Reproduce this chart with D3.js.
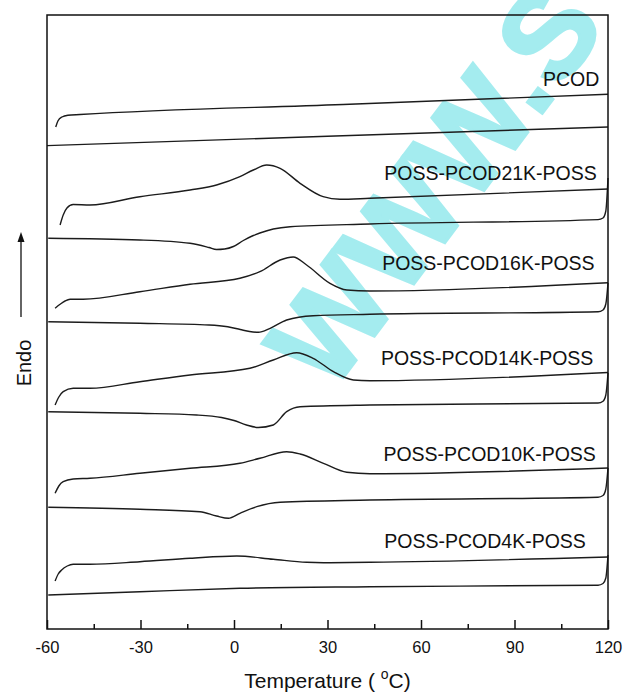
<!DOCTYPE html>
<html>
<head>
<meta charset="utf-8">
<script src="https://cdn.jsdelivr.net/npm/d3@7"></script>
<style>
  body { margin: 0; background: #fff; }
  svg text { font-family: "Liberation Sans", Arial, sans-serif; }
</style>
</head>
<body>
<div id="chart"></div>
<script>
// DSC traces, [temperature (°C), heat flow (a.u., offset)]
var samples = ["PCOD", "POSS-PCOD21K-POSS", "POSS-PCOD16K-POSS",
               "POSS-PCOD14K-POSS", "POSS-PCOD10K-POSS", "POSS-PCOD4K-POSS"];

var pcodHeat = [[-57.2, 50.2], [-56.5, 50.8], [-55.2, 51.2], [-53.3, 51.37], [-49.4, 51.45], [35, 52.45], [120, 53.47]];
var pcodCool = [[-60, 48.34], [30, 49.27], [120, 50.2]];

var k21Heat = [[-55.8, 40.4], [-54.8, 41.4], [-53.6, 42.1], [-51.6, 42.45], [-46.2, 42.4], [-30.2, 43.23], [-14.1, 43.9],
               [-5.6, 44.4], [1.9, 45.23], [6.2, 45.9], [10.5, 46.4], [14.8, 46.07], [21.2, 44.57], [28.6, 43.23],
               [34.0, 42.97], [43.6, 43.07], [120, 44.0]];
var k21Cool = [[-59.6, 39.07], [-30.2, 38.9], [-14.1, 38.57], [-8, 38.15], [-5.6, 37.95], [-3, 38.0], [-0.2, 38.25],
               [3, 38.85], [6.2, 39.35], [8.3, 39.6], [12.6, 40.0], [18.0, 40.23], [43.6, 40.5],
               [116.8, 40.94], [118.4, 41.1], [119.3, 41.8], [120, 45.1]];

var k16Heat = [[-57.4, 32.07], [-55.8, 32.47], [-54.2, 32.8], [-52.6, 32.97], [-48.4, 32.97], [-30.2, 33.73], [-14.1, 34.47],
               [1.9, 35.07], [8.3, 35.73], [14.8, 36.9], [19.0, 37.2], [23.3, 36.4], [30.8, 34.57], [36.2, 33.9],
               [43.6, 33.8], [120, 34.63]];
var k16Cool = [[-59.6, 30.73], [-30.2, 30.57], [-8, 30.4], [-2, 30.22], [2, 29.95], [5, 29.75], [7.8, 29.67],
               [11.6, 30.07], [16.9, 30.9], [25.4, 31.33], [43.6, 31.47], [116.8, 31.72], [118.4, 31.9], [119.3, 32.5], [120, 34.6]];

var k14Heat = [[-57.4, 22.4], [-56.2, 23.2], [-54.8, 23.73], [-51.6, 24.07], [-46.2, 24.07], [-30.2, 24.73], [-14.1, 25.4],
               [5.1, 26.07], [12.6, 26.9], [20.1, 27.63], [25.4, 27.07], [31.9, 25.73], [38.3, 24.9], [43.6, 24.83], [120, 25.65]];
var k14Cool = [[-59.6, 21.73], [-30.2, 21.57], [-12, 21.4], [-4, 21.15], [0, 20.85], [4, 20.4], [7.8, 20.15], [12.6, 20.4],
               [16.9, 21.73], [21.2, 22.23], [43.6, 22.4], [116.8, 22.6], [118.4, 22.78], [119.3, 23.4], [120, 25.6]];

var k10Heat = [[-57.4, 13.57], [-56.2, 14.3], [-54.8, 14.73], [-51.6, 15.0], [-46.2, 15.07], [-30.2, 15.57], [-14.1, 16.07],
               [1.9, 16.57], [8.3, 17.07], [16.9, 17.73], [21.2, 17.5], [28.7, 16.57], [36.2, 15.67], [43.6, 15.53], [120, 16.1]];
var k10Cool = [[-59.6, 12.17], [-30.2, 11.97], [-10.9, 11.73], [-5.6, 11.3], [-1.8, 11.07], [1.9, 11.57], [7.3, 12.23],
               [14.8, 12.67], [43.6, 12.9], [116.8, 13.18], [118.4, 13.35], [119.3, 14.0], [120, 16.1]];

var k4Heat = [[-57.4, 4.8], [-56.4, 5.5], [-55.3, 5.9], [-53.5, 6.3], [-51.6, 6.47], [-46.2, 6.47], [-30.2, 6.73],
              [-14.1, 7.07], [0.9, 7.3], [12.6, 6.97], [23.3, 6.67], [28.7, 6.63], [43.6, 6.67], [120, 7.2]];
var k4Cool = [[-59.6, 3.4], [-30.2, 3.73], [1.9, 4.07], [43.6, 4.23], [116.8, 4.38], [118.4, 4.55], [119.3, 5.1], [120, 7.4]];

var majorTicks = [-60, -30, 0, 30, 60, 90, 120];
var minorTicks = [-45, -15, 15, 45, 75, 105];

var curves = [pcodHeat, pcodCool, k21Heat, k21Cool, k16Heat, k16Cool,
              k14Heat, k14Cool, k10Heat, k10Cool, k4Heat, k4Cool];

// where each sample name sits: [temperature at right end, baseline]
var labelPos = [[117.2, 54.3], [116.4, 44.95], [115.7, 35.95], [115.3, 26.45], [116.1, 16.8], [112.9, 8.1]];

var W = 623, H = 694;
var margin = {top: 15, right: 15, bottom: 65, left: 47};
var w = W - margin.left - margin.right;
var h = H - margin.top - margin.bottom;

var svg = d3.select("#chart").append("svg")
    .attr("width", W)
    .attr("height", H);

// watermark behind the plot
svg.append("text")
    .attr("transform", "translate(330,395) rotate(-53)")
    .style("font-size", "124px")
    .style("font-weight", "bold")
    .attr("fill", "#a4ecef")
    .attr("stroke", "#a4ecef")
    .attr("stroke-width", 3)
    .text("WWW.S");

var g = svg.append("g")
    .attr("transform", "translate(" + margin.left + "," + margin.top + ")");

var x = d3.scaleLinear().domain([-60, 120]).range([0, w]);
var y = d3.scaleLinear().domain([0, 61.4]).range([h, 0]);

var line = d3.line()
    .x(function(d) { return x(d[0]); })
    .y(function(d) { return y(d[1]); })
    .curve(d3.curveMonotoneX);

g.selectAll("path.trace")
    .data(curves)
    .enter()
    .append("path")
    .attr("class", "trace")
    .attr("d", line)
    .attr("fill", "none")
    .attr("stroke", "#1c1c1c")
    .attr("stroke-width", 1.4);

g.selectAll("text.name")
    .data(samples)
    .enter()
    .append("text")
    .attr("class", "name")
    .attr("x", function(d, i) { return x(labelPos[i][0]); })
    .attr("y", function(d, i) { return y(labelPos[i][1]); })
    .attr("text-anchor", "end")
    .style("font-size", "19.5px")
    .attr("fill", "#111")
    .text(function(d) { return d; });

// frame
g.append("rect")
    .attr("width", w)
    .attr("height", h)
    .attr("fill", "none")
    .attr("stroke", "#111")
    .attr("stroke-width", 1.5);

var xAxis = d3.axisBottom(x)
    .tickValues(majorTicks)
    .tickSize(-9)
    .tickPadding(12.5)
    .tickFormat(function(d) { return String(d); });

var ax = g.append("g")
    .attr("transform", "translate(0," + h + ")")
    .call(xAxis);
ax.select(".domain").remove();
ax.selectAll("line").attr("stroke", "#111").attr("stroke-width", 1.5);
ax.selectAll("text")
    .style("font-size", "16.5px")
    .style("font-family", "'Liberation Sans', Arial, sans-serif")
    .attr("fill", "#111");

var minor = g.append("g")
    .attr("transform", "translate(0," + h + ")")
    .call(d3.axisBottom(x).tickValues(minorTicks).tickSize(-5).tickFormat(""));
minor.select(".domain").remove();
minor.selectAll("line").attr("stroke", "#111").attr("stroke-width", 1.5);

// x title
var title = svg.append("text")
    .attr("x", margin.left + w / 2)
    .attr("y", 688)
    .attr("text-anchor", "middle")
    .style("font-size", "21px")
    .attr("fill", "#111");
title.append("tspan").text("Temperature ( ");
title.append("tspan").attr("dy", -9).style("font-size", "14px").text("o");
title.append("tspan").attr("dy", 9).text("C)");

// y title with arrow
svg.append("text")
    .attr("transform", "translate(31,363) rotate(-90)")
    .attr("text-anchor", "middle")
    .style("font-size", "20px")
    .attr("fill", "#111")
    .text("Endo");

svg.append("line")
    .attr("x1", 21).attr("x2", 21)
    .attr("y1", 317).attr("y2", 240)
    .attr("stroke", "#111")
    .attr("stroke-width", 1.3);
svg.append("path")
    .attr("d", "M21,232 L17.5,242 L24.5,242 Z")
    .attr("fill", "#111");
</script>
</body>
</html>
